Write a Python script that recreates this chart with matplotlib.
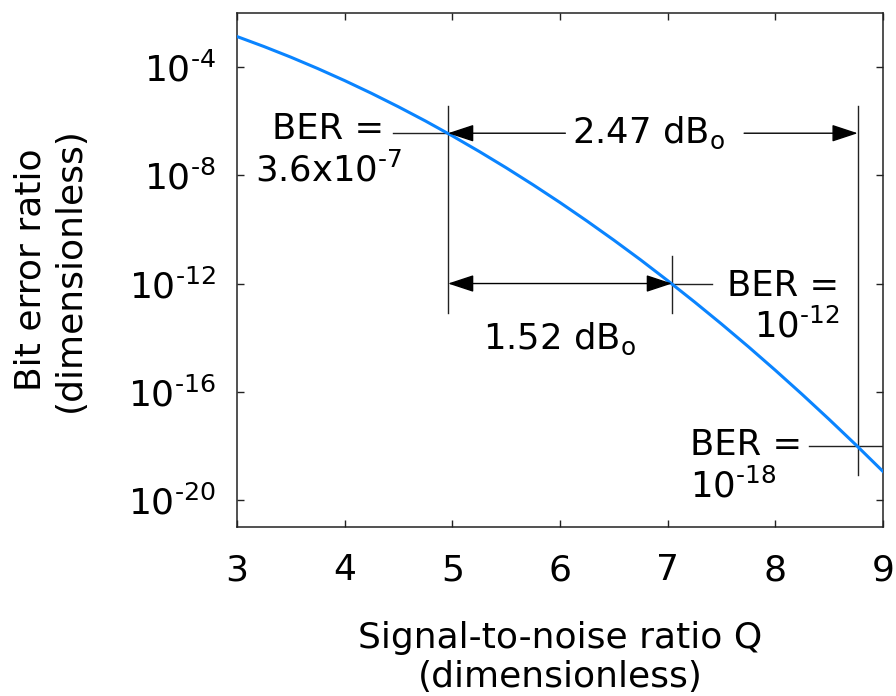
import matplotlib
matplotlib.use('Agg')
import matplotlib.pyplot as plt
import numpy as np

# BER curve
q = [3.0, 3.25, 3.5, 3.75, 4.0, 4.25, 4.5, 4.75, 5.0, 5.25, 5.5, 5.75, 6.0,
     6.25, 6.5, 6.75, 7.0, 7.25, 7.5, 7.75, 8.0, 8.25, 8.5, 8.75, 9.0]
ber = [1.35e-3, 5.77e-4, 2.33e-4, 8.84e-5, 3.17e-5, 1.07e-5, 3.40e-6, 1.02e-6,
       2.87e-7, 7.60e-8, 1.90e-8, 4.46e-9, 9.87e-10, 2.05e-10, 4.02e-11,
       7.43e-12, 1.28e-12, 2.08e-13, 3.19e-14, 4.60e-15, 6.22e-16, 7.92e-17,
       9.48e-18, 1.07e-18, 1.13e-19]

# marked operating points
q_marks = [4.96, 7.04, 8.765]
ber_marks = [3.6e-7, 1e-12, 1e-18]

xticks = [3, 4, 5, 6, 7, 8, 9]
yticks = [1e-4, 1e-8, 1e-12, 1e-16, 1e-20]
ytick_labels = [r'$10^{\text{-}4}$', r'$10^{\text{-}8}$', r'$10^{\text{-}12}$',
                r'$10^{\text{-}16}$', r'$10^{\text{-}20}$']

plt.rcParams['font.family'] = 'DejaVu Sans'
plt.rcParams['mathtext.fontset'] = 'dejavusans'
plt.rcParams['mathtext.default'] = 'regular'

fs = 26
fa = 25.5
fig = plt.figure(figsize=(8.96, 6.96), dpi=100)
ax = fig.add_axes([237/896, 1 - 527/696, (883-237)/896, (527-13)/696])

ax.semilogy(q, ber, color='#0a84ff', lw=2.2, zorder=3)
ax.set_xlim(3, 9)
ax.set_ylim(1e-21, 1e-2)

ax.set_xticks(xticks)
ax.set_xticklabels([str(t) for t in xticks])
ax.set_yticks(yticks)
ax.set_yticklabels(ytick_labels)
ax.yaxis.set_minor_locator(matplotlib.ticker.NullLocator())
ax.tick_params(direction='in', top=True, right=True, length=5, width=1,
               labelsize=fs, color='#222222')
ax.tick_params(axis='x', pad=19)
ax.tick_params(axis='y', pad=15)
for s in ax.spines.values():
    s.set_linewidth(1.1)
    s.set_color('#222222')

ax.set_xlabel('Signal-to-noise ratio Q\n(dimensionless)', fontsize=fs)
ax.xaxis.set_label_coords(0.5, -0.182)
ax.set_ylabel('Bit error ratio\n(dimensionless)', fontsize=fs)
ax.yaxis.set_label_coords(-0.232, 0.5)

lk = dict(color='#222222', lw=1.0, zorder=2)
q1, q2, q3 = q_marks
b1, b2, b3 = ber_marks

# vertical marker lines
ax.plot([q1, q1], [10**-5.43, 10**-13.08], **lk)
ax.plot([q2, q2], [10**-11.0, 10**-13.08], **lk)
ax.plot([q3, q3], [10**-5.43, 10**-19.08], **lk)

# short horizontal leaders
ax.plot([4.45, q1], [b1, b1], **lk)
ax.plot([q2, 7.41], [b2, b2], **lk)
ax.plot([8.31, 9.0], [b3, b3], **lk)

arr = dict(arrowstyle='-|>,head_length=1.15,head_width=0.38', color='black',
           lw=1.0, shrinkA=0, shrinkB=0, mutation_scale=14)
# 2.47 dB arrow (split around text)
ax.annotate('', xy=(q1, b1), xytext=(6.05, b1), arrowprops=arr)
ax.annotate('', xy=(q3, b1), xytext=(7.71, b1), arrowprops=arr)
# 1.52 dB arrow
arr2 = dict(arr)
arr2['arrowstyle'] = '<|-|>,head_length=1.15,head_width=0.38'
ax.annotate('', xy=(q2, b2), xytext=(q1, b2), arrowprops=arr2)

ax.text(6.82, 10**-6.81, r'2.47 dB$_\mathrm{o}$', fontsize=fa, ha='center', va='baseline')
ax.text(5.99, 10**-14.42, r'1.52 dB$_\mathrm{o}$', fontsize=fa, ha='center', va='baseline')

ax.text(3.85, 10**-7.07, 'BER =\n' + r'3.6x10$^{\text{-}7}$', fontsize=fa,
        ha='center', va='center', multialignment='center')
ax.text(8.59, 10**-12.85, 'BER =\n' + r'10$^{\text{-}12}$', fontsize=fa,
        ha='right', va='center', multialignment='right')
ax.text(7.21, 10**-18.75, 'BER =\n' + r'10$^{\text{-}18}$', fontsize=fa,
        ha='left', va='center', multialignment='left')

fig.savefig('out.png', dpi=100)
